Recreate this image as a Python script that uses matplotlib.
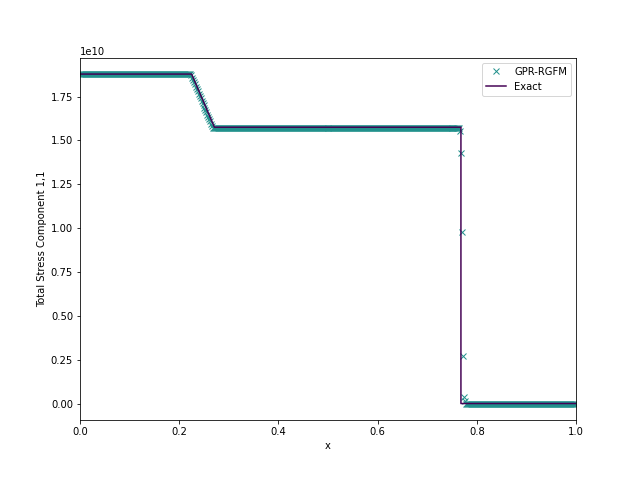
import numpy as np
import matplotlib
matplotlib.use("Agg")
import matplotlib.pyplot as plt

# Exact solution (breakpoints), units of 1e10
x_exact = [0.0, 0.225, 0.271, 0.768, 0.768, 1.0]
y_exact = [1.878, 1.878, 1.575, 1.575, 0.0, 0.0]

# GPR-RGFM numerical solution on 500 cells
n_cells = 500
y_top = [1.878] * 111
y_ramp = [1.871, 1.858, 1.845, 1.832, 1.819, 1.806, 1.792, 1.779, 1.766,
          1.753, 1.740, 1.726, 1.713, 1.700, 1.687, 1.674, 1.660, 1.647,
          1.634, 1.621, 1.608, 1.595, 1.581]
y_plateau = [1.573] * 249
y_shock = [1.556, 1.43, 0.975, 0.27, 0.038, 0.015]
y_right = [0.0] * 111
y_num = y_top + y_ramp + y_plateau + y_shock + y_right

x_num = (np.arange(n_cells) + 0.5) / n_cells
y_num = np.array(y_num) * 1e10

DPI = 72
fig, ax = plt.subplots(figsize=(640 / DPI, 480 / DPI), dpi=DPI)
fig.subplots_adjust(left=0.125, right=0.9, top=0.88, bottom=0.125)
ax.plot(x_num, y_num, 'x', color='#21918c', markersize=6, label='GPR-RGFM')
ax.plot(x_exact, np.array(y_exact) * 1e10, '-', color='#440154', linewidth=1.5, label='Exact')
ax.set_xlim(0, 1)
ax.set_xlabel('x')
ax.set_ylabel('Total Stress Component 1,1')
ax.legend(loc='upper right')
fig.savefig('out.png', dpi=DPI)
